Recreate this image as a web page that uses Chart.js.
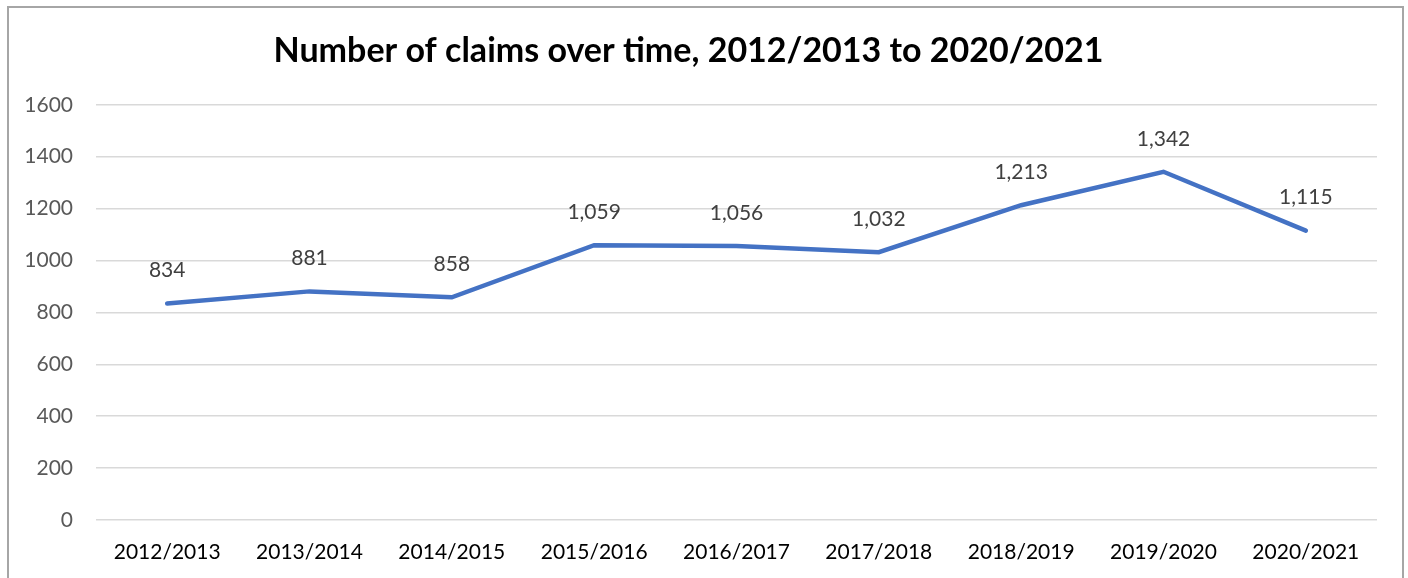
<!DOCTYPE html>
<html>
<head>
<meta charset="utf-8">
<script src="https://cdn.jsdelivr.net/npm/chart.js@4.4.0/dist/chart.umd.min.js"></script>
<style>
  html, body { margin: 0; padding: 0; background: #fff; }
  #wrap { width: 1408px; height: 578px; position: relative; }
</style>
</head>
<body>
<div id="wrap"><canvas id="claimsChart" width="1408" height="578"></canvas></div>
<script>
var years = ['2012/2013', '2013/2014', '2014/2015', '2015/2016', '2016/2017',
             '2017/2018', '2018/2019', '2019/2020', '2020/2021'];
var claims = [834, 881, 858, 1059, 1056, 1032, 1213, 1342, 1115];
var yTicks = [0, 200, 400, 600, 800, 1000, 1200, 1400, 1600];

var FONT = 'Lato, "Open Sans", sans-serif';

// frame round the chart, cut off at the bottom
var frame = {
  id: 'frame',
  beforeDraw: function(chart) {
    var ctx = chart.ctx;
    ctx.save();
    ctx.strokeStyle = '#a6a6a6';
    ctx.lineWidth = 2;
    ctx.beginPath();
    ctx.moveTo(8, 600);
    ctx.lineTo(8, 7);
    ctx.lineTo(1403, 7);
    ctx.lineTo(1403, 600);
    ctx.stroke();
    ctx.restore();
  }
};

// value labels above each point
var valueLabels = {
  id: 'valueLabels',
  afterDatasetsDraw: function(chart) {
    var ctx = chart.ctx;
    var meta = chart.getDatasetMeta(0);
    ctx.save();
    ctx.font = '21px ' + FONT;
    ctx.fillStyle = '#404040';
    ctx.textAlign = 'center';
    ctx.textBaseline = 'middle';
    meta.data.forEach(function(pt, i) {
      ctx.fillText(claims[i].toLocaleString('en-US'), pt.x, pt.y - 33);
    });
    ctx.restore();
  }
};

var context = document.getElementById('claimsChart').getContext('2d');
var claimsChart = new Chart(context, {
  type: 'line',
  data: {
    labels: years,
    datasets: [{
      data: claims,
      borderColor: '#4472c4',
      borderWidth: 4.5,
      borderCapStyle: 'round',
      borderJoinStyle: 'miter',
      pointRadius: 0,
      tension: 0,
      fill: false
    }]
  },
  options: {
    responsive: false,
    animation: false,
    layout: { padding: { left: 0, right: 31, top: 0, bottom: 0 } },
    plugins: {
      legend: { display: false },
      tooltip: { enabled: false },
      title: {
        display: true,
        text: 'Number of claims over time, 2012/2013 to 2020/2021',
        color: '#000',
        font: { family: FONT, size: 34, weight: 'bold', lineHeight: 1.2 },
        padding: { top: 31, bottom: 33 }
      }
    },
    scales: {
      x: {
        offset: true,
        grid: { display: false, drawTicks: false },
        border: { display: false },
        ticks: {
          color: '#000',
          padding: 20,
          maxRotation: 0,
          font: { family: FONT, size: 21 }
        },
        afterFit: function(scale) { scale.height = 58; }
      },
      y: {
        min: 0,
        max: 1600,
        afterBuildTicks: function(scale) {
          scale.ticks = yTicks.map(function(v) { return { value: v }; });
        },
        grid: { color: '#d9d9d9', lineWidth: 1.5, drawTicks: false },
        border: { display: false },
        ticks: {
          color: '#595959',
          padding: 23,
          font: { family: FONT, size: 21 },
          callback: function(v) { return String(v); }
        },
        afterFit: function(scale) { scale.width = 96; }
      }
    }
  },
  plugins: [frame, valueLabels]
});
</script>
</body>
</html>
